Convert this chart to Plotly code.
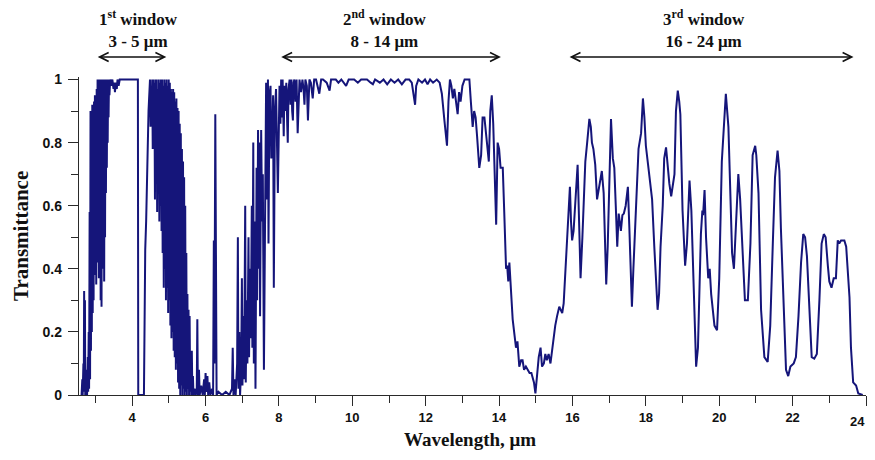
import plotly.graph_objects as go

# ---------------- data ----------------
# Segment A: onset near 2.6-2.84 um
wl_a = [2.600, 2.620, 2.640, 2.650, 2.670, 2.680, 2.690, 2.700, 2.712, 2.720,
        2.740, 2.760, 2.770, 2.790, 2.800, 2.815, 2.825]
tr_a = [0.00, 0.00, 0.05, 0.00, 0.10, 0.01, 0.33, 0.03, 0.30, 0.00,
        0.02, 0.08, 0.00, 0.12, 0.01, 0.20, 0.02]

# Segment B: dense rise of the 1st window
wl_b = [2.840, 2.852, 2.864, 2.876, 2.888, 2.900, 2.912, 2.924, 2.936, 2.948,
        2.960, 2.972, 2.984, 2.996, 3.008, 3.020, 3.032, 3.044, 3.056, 3.068,
        3.080, 3.092, 3.104, 3.116, 3.128, 3.140, 3.152, 3.164, 3.176, 3.188,
        3.200, 3.212, 3.224, 3.236, 3.248, 3.260, 3.272, 3.284, 3.296, 3.308,
        3.320, 3.332, 3.344, 3.356, 3.368, 3.380]
tr_b = [0.58, 0.05, 0.90, 0.14, 0.85, 0.20, 0.92, 0.26, 0.88, 0.30,
        0.93, 0.42, 0.95, 0.38, 0.90, 0.35, 0.97, 0.45, 1.00, 0.42,
        0.96, 0.37, 1.00, 0.45, 0.99, 0.30, 1.00, 0.28, 1.00, 0.40,
        0.98, 0.43, 1.00, 0.36, 1.00, 0.50, 1.00, 0.64, 1.00, 0.72,
        1.00, 0.80, 1.00, 0.88, 1.00, 0.95]

# Segment C: top of 1st window and CO2 notch at 4.2-4.4 um
wl_c = [3.40, 3.43, 3.46, 3.49, 3.51, 3.53, 3.55, 3.58, 3.60, 3.63,
        3.66, 3.70, 3.80, 3.90, 4.00, 4.155, 4.165, 4.32, 4.355, 4.38,
        4.445, 4.47]
tr_c = [1.00, 0.98, 1.00, 0.97, 0.99, 0.96, 0.99, 0.97, 1.00, 0.98,
        1.00, 1.00, 1.00, 1.00, 1.00, 1.00, 0.00, 0.00, 0.46, 0.55,
        0.90, 1.00]

# Segment D: dense descent 4.5-5.7 um
wl_d = [4.485, 4.500, 4.515, 4.530, 4.545, 4.560, 4.575, 4.590, 4.605, 4.620,
        4.635, 4.650, 4.665, 4.680, 4.695, 4.710, 4.725, 4.740, 4.755, 4.770,
        4.785, 4.800, 4.815, 4.830, 4.845, 4.860, 4.875, 4.890, 4.905, 4.920,
        4.935, 4.950, 4.965, 4.980, 4.995, 5.010, 5.025, 5.040, 5.055, 5.070,
        5.085, 5.100, 5.115, 5.130, 5.145, 5.160, 5.175, 5.190, 5.205, 5.220,
        5.235, 5.250, 5.265, 5.280, 5.295, 5.310, 5.325, 5.340, 5.355, 5.370,
        5.385, 5.400, 5.415, 5.430, 5.445, 5.460, 5.475, 5.490, 5.505, 5.520,
        5.535, 5.550, 5.565, 5.580, 5.595, 5.610, 5.625, 5.640, 5.655, 5.670,
        5.700, 5.730]
tr_d = [1.00, 0.85, 0.98, 0.88, 1.00, 0.78, 1.00, 0.82, 0.99, 0.62,
        1.00, 0.70, 1.00, 0.58, 0.97, 0.66, 1.00, 0.55, 0.99, 0.60,
        1.00, 0.52, 1.00, 0.45, 0.98, 0.34, 1.00, 0.40, 0.99, 0.30,
        1.00, 0.34, 0.98, 0.26, 1.00, 0.30, 0.99, 0.22, 0.97, 0.18,
        0.96, 0.20, 0.97, 0.14, 0.96, 0.12, 0.93, 0.08, 0.94, 0.10,
        0.91, 0.04, 0.90, 0.02, 0.86, 0.00, 0.83, 0.03, 0.78, 0.00,
        0.74, 0.02, 0.69, 0.00, 0.60, 0.01, 0.45, 0.00, 0.32, 0.02,
        0.27, 0.00, 0.25, 0.01, 0.12, 0.00, 0.14, 0.00, 0.06, 0.00,
        0.02, 0.00]

# Segment E: water-vapour absorption band 5.7-6.7 um
wl_e = [5.760, 5.775, 5.790, 5.820, 5.840, 5.880, 5.920, 5.960, 5.980, 6.000,
        6.020, 6.050, 6.070, 6.100, 6.130, 6.180, 6.205, 6.225, 6.240, 6.265,
        6.285, 6.300, 6.350, 6.450, 6.550, 6.650, 6.720]
tr_e = [0.02, 0.24, 0.00, 0.08, 0.00, 0.03, 0.00, 0.05, 0.00, 0.07,
        0.01, 0.06, 0.00, 0.04, 0.00, 0.02, 0.00, 0.49, 0.10, 0.89,
        0.05, 0.00, 0.01, 0.00, 0.01, 0.00, 0.02]

# Segment F: rise into the 2nd window 6.7-8.6 um
wl_f = [6.740, 6.760, 6.800, 6.820, 6.860, 6.880, 6.895, 6.920, 6.940, 6.970,
        6.990, 7.005, 7.030, 7.050, 7.080, 7.095, 7.120, 7.140, 7.170, 7.185,
        7.210, 7.230, 7.260, 7.275, 7.300, 7.315, 7.340, 7.360, 7.390, 7.405,
        7.430, 7.445, 7.470, 7.485, 7.515, 7.540, 7.560, 7.590, 7.620, 7.650,
        7.680, 7.700, 7.715, 7.740, 7.770, 7.790, 7.815, 7.840, 7.860, 7.890,
        7.920, 7.945, 7.970, 7.990, 8.015, 8.040, 8.060, 8.080, 8.100, 8.130,
        8.150, 8.175, 8.200, 8.225, 8.240, 8.260, 8.290, 8.315, 8.340, 8.360,
        8.380, 8.400, 8.420, 8.450, 8.480, 8.510, 8.540, 8.560]
tr_f = [0.15, 0.00, 0.05, 0.00, 0.10, 0.50, 0.02, 0.20, 0.00, 0.08,
        0.37, 0.03, 0.25, 0.05, 0.60, 0.04, 0.30, 0.10, 0.50, 0.12,
        0.40, 0.18, 0.60, 0.15, 0.80, 0.10, 0.55, 0.02, 0.72, 0.30,
        0.84, 0.40, 0.80, 0.25, 0.84, 0.55, 0.70, 0.08, 0.75, 0.99,
        0.62, 1.00, 0.48, 0.95, 0.98, 0.75, 0.80, 0.95, 0.34, 0.90,
        0.97, 0.82, 0.64, 0.79, 0.98, 0.86, 1.00, 0.88, 1.00, 0.82,
        0.98, 0.90, 0.99, 0.86, 0.80, 0.97, 1.00, 0.92, 1.00, 0.90,
        0.87, 0.99, 1.00, 0.93, 1.00, 0.83, 0.98, 1.00]

# Segment G: 2nd window plateau and the 14-15 um CO2 edge
wl_g = [8.60, 8.64, 8.67, 8.695, 8.72, 8.76, 8.79, 8.83, 8.87, 8.92,
        8.96, 9.01, 9.05, 9.10, 9.15, 9.20, 9.30, 9.38, 9.42, 9.55,
        9.62, 9.70, 9.83, 9.90, 10.05, 10.15, 10.24, 10.40, 10.50, 10.56,
        10.62, 10.75, 10.85, 10.95, 11.05, 11.15, 11.25, 11.35, 11.45, 11.55,
        11.62, 11.68, 11.71, 11.74, 11.80, 11.90, 11.98, 12.05, 12.12, 12.20,
        12.30, 12.38, 12.44, 12.51, 12.58, 12.62, 12.66, 12.70, 12.74, 12.78,
        12.82, 12.87, 12.91, 12.95, 13.00, 13.06, 13.12, 13.19, 13.23, 13.28,
        13.32, 13.36, 13.40, 13.46, 13.51, 13.55, 13.60, 13.64, 13.68, 13.72,
        13.76, 13.80, 13.84, 13.89, 13.92, 13.96, 14.00, 14.04, 14.10, 14.14,
        14.19, 14.22, 14.25, 14.28, 14.31, 14.37, 14.42, 14.46, 14.50, 14.55,
        14.60, 14.64, 14.68, 14.73, 14.78, 14.83, 14.88, 14.92, 14.95, 14.99]
tr_g = [0.96, 1.00, 0.97, 0.92, 1.00, 0.98, 0.87, 1.00, 0.99, 0.94,
        1.00, 1.00, 0.98, 0.955, 1.00, 1.00, 0.99, 0.965, 1.00, 1.00,
        0.99, 1.00, 0.98, 1.00, 1.00, 0.99, 1.00, 1.00, 0.99, 0.985,
        1.00, 0.99, 1.00, 0.985, 1.00, 0.99, 1.00, 0.985, 1.00, 1.00,
        0.99, 0.935, 0.92, 0.98, 1.00, 0.99, 1.00, 0.985, 1.00, 0.99,
        1.00, 0.99, 0.955, 0.87, 0.79, 0.93, 1.00, 0.98, 0.94, 0.97,
        0.93, 0.89, 0.96, 0.93, 0.98, 1.00, 1.00, 1.00, 0.93, 0.85,
        0.90, 0.88, 0.82, 0.72, 0.76, 0.88, 0.88, 0.84, 0.80, 0.74,
        0.90, 0.95, 0.86, 0.64, 0.54, 0.80, 0.78, 0.72, 0.72, 0.58,
        0.40, 0.41, 0.36, 0.42, 0.36, 0.24, 0.19, 0.15, 0.17, 0.09,
        0.11, 0.11, 0.08, 0.09, 0.08, 0.07, 0.07, 0.05, 0.04, 0.005]

# Segment H: 3rd window 15-24 um
wl_h = [15.03, 15.08, 15.13, 15.17, 15.22, 15.26, 15.30, 15.35, 15.40, 15.44,
        15.50, 15.53, 15.58, 15.64, 15.68, 15.72, 15.76, 15.80, 15.83, 15.89,
        15.93, 15.96, 15.99, 16.03, 16.08, 16.14, 16.18, 16.22, 16.27, 16.32,
        16.35, 16.40, 16.46, 16.50, 16.53, 16.57, 16.62, 16.67, 16.72, 16.80,
        16.85, 16.88, 16.92, 16.96, 17.00, 17.05, 17.10, 17.14, 17.18, 17.22,
        17.26, 17.29, 17.32, 17.36, 17.40, 17.45, 17.51, 17.55, 17.59, 17.62,
        17.66, 17.71, 17.76, 17.80, 17.87, 17.92, 17.96, 18.00, 18.06, 18.12,
        18.17, 18.23, 18.28, 18.32, 18.36, 18.40, 18.46, 18.50, 18.55, 18.60,
        18.64, 18.69, 18.73, 18.78, 18.82, 18.87, 18.91, 18.94, 19.00, 19.07,
        19.12, 19.19, 19.24, 19.31, 19.37, 19.42, 19.50, 19.54, 19.56, 19.60,
        19.64, 19.70, 19.74, 19.78, 19.87, 19.94, 20.00, 20.07, 20.14, 20.18,
        20.25, 20.30, 20.35, 20.40, 20.46, 20.52, 20.57, 20.64, 20.70, 20.78,
        20.85, 20.91, 20.95, 20.98, 21.01, 21.07, 21.14, 21.23, 21.32, 21.39,
        21.46, 21.52, 21.59, 21.64, 21.68, 21.76, 21.82, 21.88, 21.94, 22.03,
        22.09, 22.16, 22.23, 22.29, 22.34, 22.39, 22.46, 22.52, 22.59, 22.66,
        22.73, 22.79, 22.85, 22.90, 22.96, 23.00, 23.06, 23.12, 23.18, 23.23,
        23.27, 23.32, 23.41, 23.46, 23.55, 23.59, 23.65, 23.73, 23.79, 23.91]
tr_h = [0.07, 0.12, 0.15, 0.09, 0.10, 0.13, 0.11, 0.13, 0.10, 0.14,
        0.20, 0.22, 0.25, 0.28, 0.27, 0.26, 0.29, 0.38, 0.44, 0.55,
        0.66, 0.55, 0.49, 0.52, 0.63, 0.73, 0.55, 0.37, 0.50, 0.68,
        0.74, 0.80, 0.875, 0.85, 0.80, 0.78, 0.73, 0.62, 0.66, 0.71,
        0.64, 0.50, 0.35, 0.47, 0.70, 0.875, 0.75, 0.72, 0.60, 0.47,
        0.575, 0.55, 0.52, 0.57, 0.575, 0.60, 0.66, 0.53, 0.40, 0.28,
        0.40, 0.55, 0.68, 0.78, 0.83, 0.94, 0.88, 0.79, 0.73, 0.67,
        0.62, 0.47, 0.34, 0.27, 0.32, 0.47, 0.60, 0.75, 0.785, 0.72,
        0.67, 0.63, 0.66, 0.70, 0.90, 0.965, 0.93, 0.89, 0.585, 0.41,
        0.48, 0.68, 0.585, 0.27, 0.09, 0.15, 0.51, 0.585, 0.57, 0.65,
        0.50, 0.37, 0.40, 0.32, 0.22, 0.205, 0.37, 0.74, 0.89, 0.955,
        0.85, 0.62, 0.45, 0.40, 0.57, 0.70, 0.62, 0.45, 0.30, 0.30,
        0.48, 0.76, 0.78, 0.79, 0.76, 0.64, 0.27, 0.12, 0.105, 0.22,
        0.48, 0.69, 0.775, 0.71, 0.53, 0.30, 0.08, 0.06, 0.09, 0.10,
        0.12, 0.25, 0.42, 0.51, 0.50, 0.44, 0.29, 0.12, 0.115, 0.13,
        0.30, 0.48, 0.51, 0.50, 0.41, 0.36, 0.34, 0.37, 0.37, 0.49,
        0.48, 0.49, 0.49, 0.47, 0.31, 0.15, 0.04, 0.03, 0.005, 0.00]

x_tick_vals = [4, 6, 8, 10, 12, 14, 16, 18, 20, 22, 24]
y_tick_vals = [0, 0.2, 0.4, 0.6, 0.8, 1]
y_tick_text = ["0", "0.2", "0.4", "0.6", "0.8", "1"]

windows = [
    {"label": "<b>1<sup>st</sup> window<br>3 - 5 \u03bcm</b>", "x0": 3.02, "x1": 4.93, "xc": 4.16},
    {"label": "<b>2<sup>nd</sup> window<br>8 - 14 \u03bcm</b>", "x0": 8.02, "x1": 14.05, "xc": 10.89},
    {"label": "<b>3<sup>rd</sup> window<br>16 - 24 \u03bcm</b>", "x0": 15.88, "x1": 23.66, "xc": 19.59},
]

wavelength = wl_a + wl_b + wl_c + wl_d + wl_e + wl_f + wl_g + wl_h
transmittance = tr_a + tr_b + tr_c + tr_d + tr_e + tr_f + tr_g + tr_h

# ---------------- figure ----------------
LINE = "#15157a"
SERIF = "Liberation Serif, Times New Roman, serif"
SANS = "Liberation Sans, Arial, sans-serif"
AX = "#2a2a2a"

fig = go.Figure()
fig.add_trace(go.Scatter(x=wavelength, y=transmittance, mode="lines",
                         line=dict(color=LINE, width=2), showlegend=False,
                         hoverinfo="skip"))

axis_common = dict(showgrid=False, zeroline=False, showline=True, automargin=False,
                   linecolor=AX, linewidth=1.3,
                   ticks="outside", ticklen=10, tickwidth=1.3, tickcolor=AX)

# last x label sits at the very edge of the window: draw it as a right-anchored note
x_tick_text = ["<b>%d</b>" % v for v in x_tick_vals[:-1]] + [""]

fig.update_xaxes(range=[2.55, 24.0], tickmode="array", tickvals=x_tick_vals,
                 ticktext=x_tick_text,
                 tickfont=dict(family=SANS, size=13, color="#111111"),
                 minor=dict(dtick=1, tick0=0, ticks="outside", ticklen=7,
                            tickwidth=1.3, tickcolor=AX),
                 **axis_common)
fig.update_yaxes(range=[0, 1.008], tickmode="array", tickvals=y_tick_vals,
                 ticktext=["<b>%s</b>" % t for t in y_tick_text],
                 tickfont=dict(family=SANS, size=14, color="#111111"),
                 ticklabelstandoff=3,
                 minor=dict(dtick=0.1, tick0=0, ticks="outside", ticklen=7,
                            tickwidth=1.3, tickcolor=AX),
                 **axis_common)

annotations = []
for w in windows:
    annotations.append(dict(x=w["xc"], y=1.1525, xref="x", yref="paper",
                            text=w["label"], showarrow=False, yanchor="middle",
                            xanchor="center",
                            font=dict(family=SERIF, size=17, color="#111111")))
    annotations.append(dict(x=w["x1"], y=1.063, xref="x", yref="paper",
                            ax=w["x0"], ay=0, axref="x", ayref="pixel",
                            text="", showarrow=True, arrowhead=5,
                            arrowside="end+start", arrowsize=1.1, arrowwidth=1.6,
                            arrowcolor="#111111", standoff=0, startstandoff=0))
annotations.append(dict(x=x_tick_vals[-1], y=-0.083, xref="x", yref="paper",
                        text="<b>%d</b>" % x_tick_vals[-1], showarrow=False,
                        xanchor="right", yanchor="middle", xshift=1,
                        font=dict(family=SANS, size=13, color="#111111")))
annotations.append(dict(x=-0.0737, y=0.5, xref="paper", yref="paper",
                        text="<b>Transmittance</b>", textangle=-90, showarrow=False,
                        xanchor="center", yanchor="middle",
                        font=dict(family=SERIF, size=21, color="#111111")))
annotations.append(dict(x=0.497, y=-0.1415, xref="paper", yref="paper",
                        text="<b>Wavelength, \u03bcm</b>", showarrow=False,
                        xanchor="center", yanchor="middle",
                        font=dict(family=SERIF, size=19, color="#111111")))

# the page body adds an 8 px offset; keep the page within the 875x460 window
fig.update_layout(width=867, height=442,
                  margin=dict(l=71, r=9, t=69, b=55),
                  paper_bgcolor="white", plot_bgcolor="white",
                  annotations=annotations)

fig.write_html("out.html")
